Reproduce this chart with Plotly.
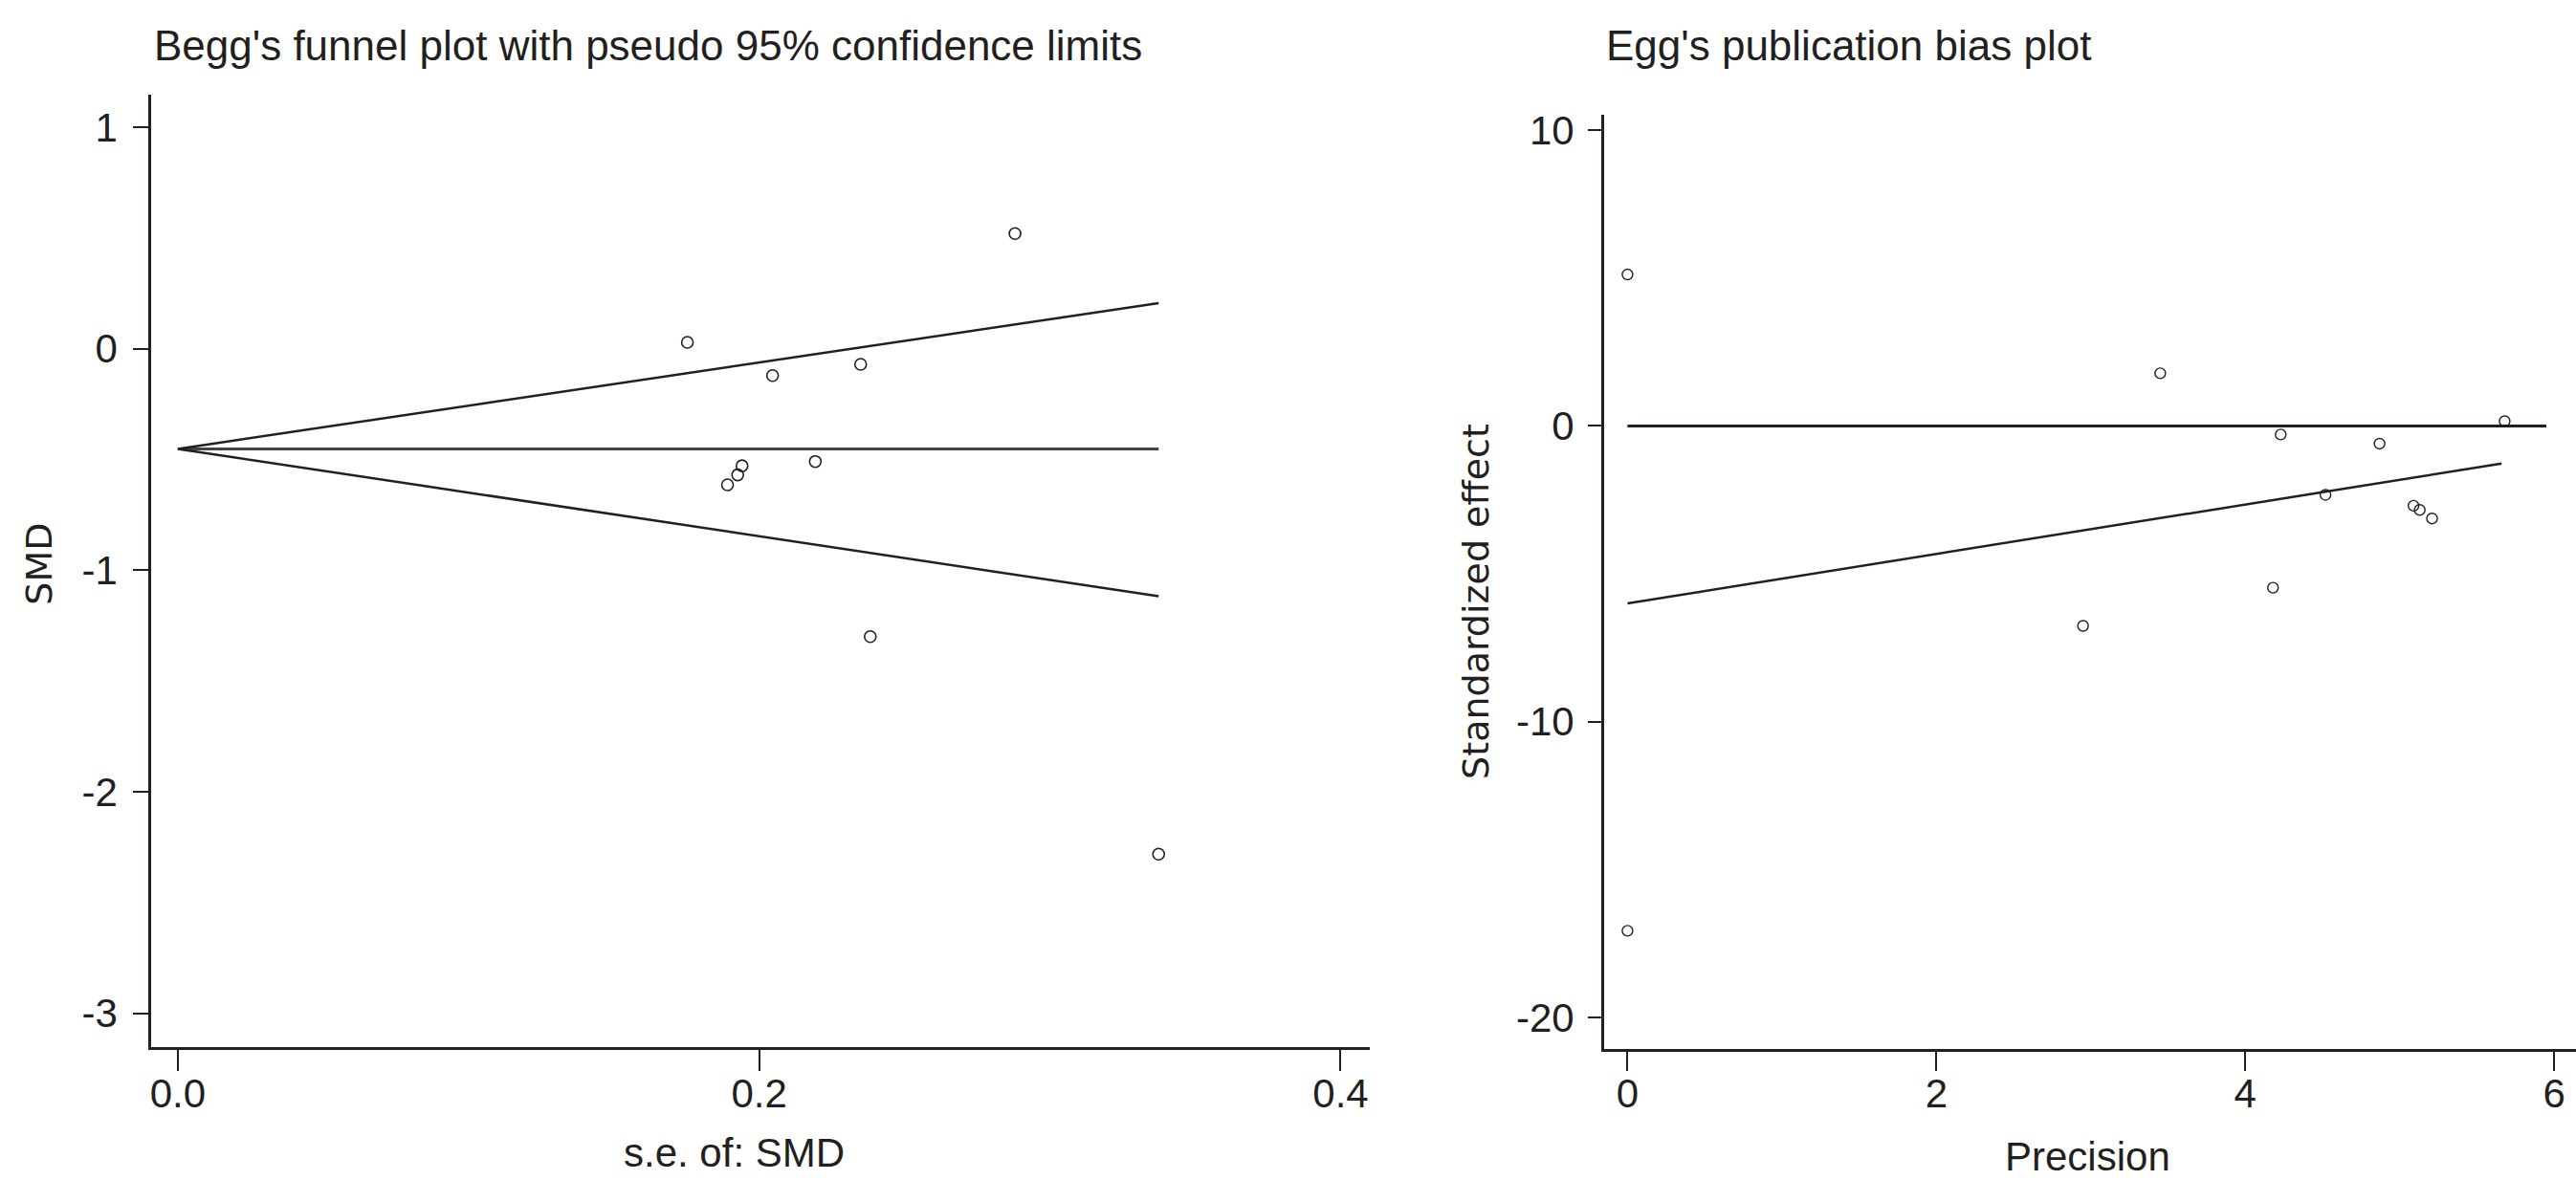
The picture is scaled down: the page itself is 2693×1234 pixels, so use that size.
import plotly.graph_objects as go

# ---------------- data: Begg's funnel plot ----------------
begg_se = [0.288, 0.1753, 0.2046, 0.2349, 0.2193, 0.1891, 0.1926, 0.1941, 0.2382, 0.3374]
begg_smd = [0.519, 0.028, -0.122, -0.071, -0.510, -0.615, -0.570, -0.529, -1.300, -2.282]
funnel_se = [0.0, 0.3374]
funnel_upper = [-0.453, 0.205]
funnel_lower = [-0.453, -1.118]
funnel_pooled = [-0.453, -0.453]
begg_xticks = [0.0, 0.2, 0.4]
begg_xticklabels = ["0.0", "0.2", "0.4"]
begg_yticks = [-3, -2, -1, 0, 1]
begg_yticklabels = ["-3", "-2", "-1", "0", "1"]

# ---------------- data: Egger's publication bias plot ----------------
egger_precision = [0.0, 0.0, 3.45, 4.23, 4.87, 4.52, 2.95, 4.18, 5.68, 5.09, 5.13, 5.21]
egger_std_effect = [5.12, -17.07, 1.78, -0.29, -0.60, -2.33, -6.76, -5.47, 0.16, -2.70, -2.84, -3.13]
egger_zero_x = [0.0, 5.95]
egger_zero_y = [0.0, 0.0]
egger_reg_x = [0.0, 5.66]
egger_reg_y = [-6.0, -1.27]
egger_xticks = [0, 2, 4, 6]
egger_xticklabels = ["0", "2", "4", "6"]
egger_yticks = [-20, -10, 0, 10]
egger_yticklabels = ["-20", "-10", "0", "10"]

W, H = 2693, 1234
INK = "#231F20"
TICKFONT = dict(family="Liberation Sans, Arial, sans-serif", size=42, color=INK)

def px(xp):
    return xp / W

def py(yp):
    return 1 - yp / H

fig = go.Figure()

line_style = dict(color=INK, width=2.5)
# funnel lines
fig.add_trace(go.Scatter(x=funnel_se, y=funnel_pooled, mode="lines",
                         line=dict(color="#444444", width=3), xaxis="x", yaxis="y", hoverinfo="skip"))
fig.add_trace(go.Scatter(x=funnel_se, y=funnel_upper, mode="lines",
                         line=line_style, xaxis="x", yaxis="y", hoverinfo="skip"))
fig.add_trace(go.Scatter(x=funnel_se, y=funnel_lower, mode="lines",
                         line=line_style, xaxis="x", yaxis="y", hoverinfo="skip"))
fig.add_trace(go.Scatter(x=begg_se, y=begg_smd, mode="markers",
                         marker=dict(symbol="circle-open", size=12, color=INK, line=dict(width=1.6)),
                         xaxis="x", yaxis="y"))

# egger lines
fig.add_trace(go.Scatter(x=egger_zero_x, y=egger_zero_y, mode="lines",
                         line=dict(color=INK, width=3), xaxis="x2", yaxis="y2", hoverinfo="skip"))
fig.add_trace(go.Scatter(x=egger_reg_x, y=egger_reg_y, mode="lines",
                         line=line_style, xaxis="x2", yaxis="y2", hoverinfo="skip"))
fig.add_trace(go.Scatter(x=egger_precision, y=egger_std_effect, mode="markers",
                         marker=dict(symbol="circle-open", size=11, color=INK, line=dict(width=1.4)),
                         xaxis="x2", yaxis="y2"))

axis_common = dict(showgrid=False, zeroline=False, showline=True, linecolor=INK, linewidth=2.5,
                   ticks="outside", tickcolor=INK, tickwidth=2, tickfont=TICKFONT, fixedrange=True)

fig.update_layout(
    width=W, height=H,
    margin=dict(l=0, r=0, t=0, b=0),
    paper_bgcolor="white", plot_bgcolor="white",
    showlegend=False,
    xaxis=dict(domain=[px(157), px(1432)], range=[-0.0092, 0.4102], tickvals=begg_xticks,
               ticktext=begg_xticklabels, ticklen=22, ticklabelstandoff=-12, anchor="y", **axis_common),
    yaxis=dict(domain=[py(1094), py(93)], range=[-3.152, 1.144], tickvals=begg_yticks,
               ticktext=begg_yticklabels, ticklen=16, ticklabelstandoff=8, anchor="x", **axis_common),
    xaxis2=dict(domain=[px(1676.5), 1.0], range=[-0.152, 6.142], tickvals=egger_xticks,
                ticktext=egger_xticklabels, ticklen=20, ticklabelstandoff=-12, anchor="y2", **axis_common),
    yaxis2=dict(domain=[py(1096), py(114)], range=[-21.06, 10.51], tickvals=egger_yticks,
                ticktext=egger_yticklabels, ticklen=14, ticklabelstandoff=6, anchor="x2", **axis_common),
)

title_font = dict(family="Liberation Sans, Arial, sans-serif", size=44, color=INK)
label_font = dict(family="Liberation Sans, Arial, sans-serif", size=42, color=INK)
ylabel_font = dict(family="DejaVu Sans, Verdana, sans-serif", size=38, color=INK)

annotations = [
    dict(text="Begg's funnel plot with pseudo 95% confidence limits", x=px(158), y=py(41),
         xanchor="left", yanchor="middle", font=title_font),
    dict(text="Egg's publication bias plot", x=px(1677), y=py(41),
         xanchor="left", yanchor="middle", font=title_font),
    dict(text="s.e. of: SMD", x=px(767), y=py(1205), xanchor="center", yanchor="middle", font=label_font),
    dict(text="Precision", x=px(2182), y=py(1209), xanchor="center", yanchor="middle", font=label_font),
    dict(text="SMD", x=px(40), y=py(586), xanchor="center", yanchor="middle", textangle=-90, font=ylabel_font),
    dict(text="Standardized effect", x=px(1543), y=py(625), xanchor="center", yanchor="middle",
         textangle=-90, font=ylabel_font),
]
for a in annotations:
    a.update(xref="paper", yref="paper", showarrow=False)
fig.update_layout(annotations=annotations)

fig.write_html("out.html")
